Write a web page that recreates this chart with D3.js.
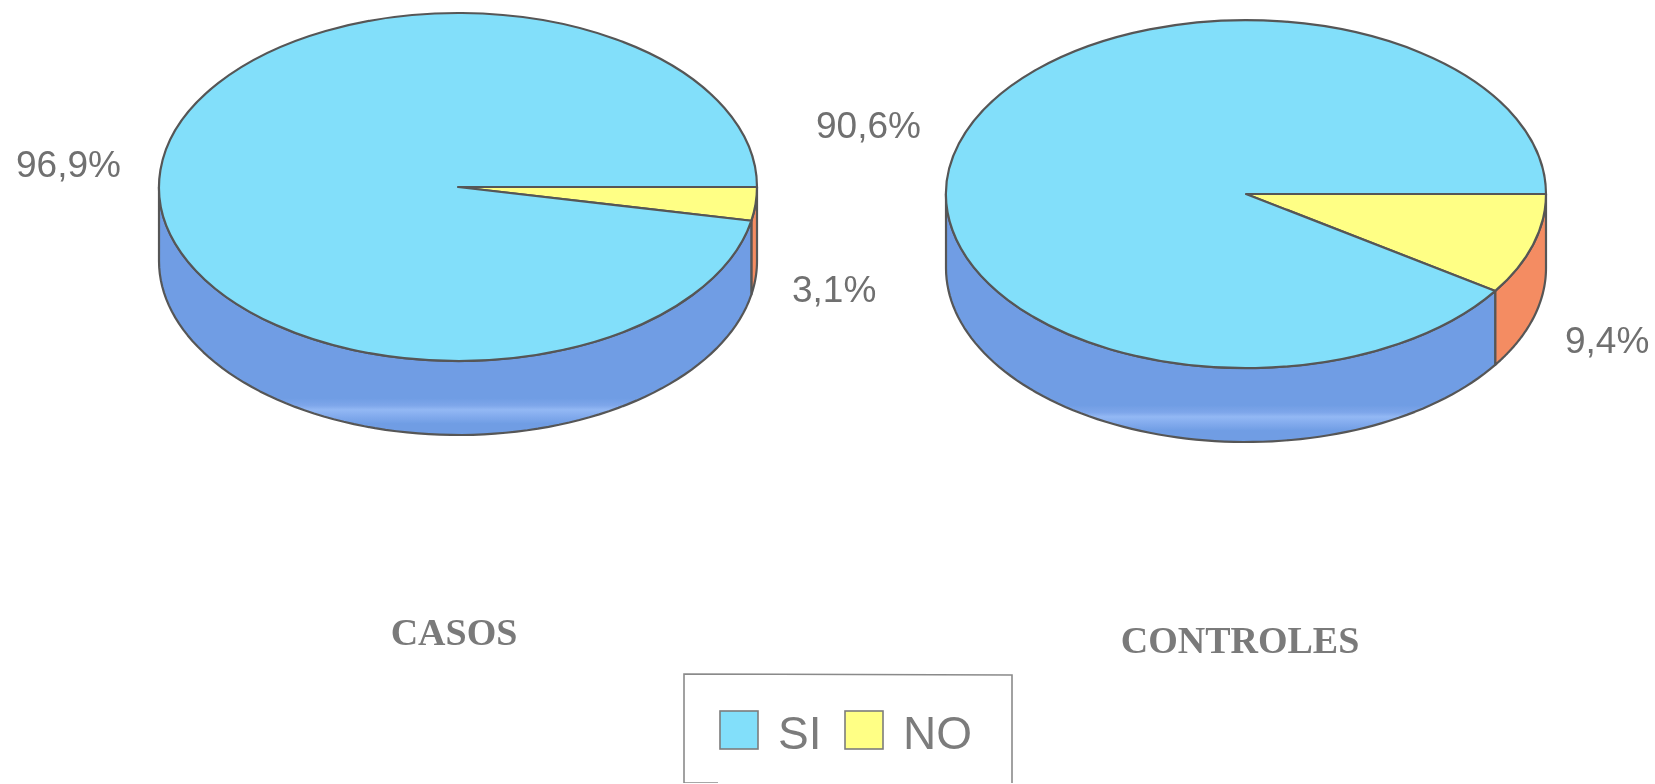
<!DOCTYPE html>
<html><head><meta charset="utf-8">
<script src="https://cdnjs.cloudflare.com/ajax/libs/d3/7.8.5/d3.min.js"></script>
<style>html,body{margin:0;padding:0;background:#fff;overflow:hidden}svg{display:block}</style>
</head><body><svg id="c" width="1655" height="784"></svg>
<script>
const categories = ["NO", "SI"];
const legendOrder = ["SI", "NO"];
const casosValues = [3.1, 96.9];
const controlesValues = [9.4, 90.6];
const casosLabels = ["3,1%", "96,9%"];
const controlesLabels = ["9,4%", "90,6%"];
const pieTitles = ["CASOS", "CONTROLES"];

const topColor = d3.scaleOrdinal(categories, ["#ffff85", "#82dffa"]);
const wallColor = d3.scaleOrdinal(categories, ["#f48c62", "#6f9de4"]);
const edge = "#565656", ink = "#707070";
const root = d3.select("#c");
const defs = root.append("defs");
defs.append("filter").attr("id","scan").attr("x",0).attr("y",0).attr("width","100%").attr("height","100%")
  .append("feGaussianBlur").attr("stdDeviation",0.55);
const svg = root.append("g").attr("filter","url(#scan)");

const pieLayout = d3.pie().sort(null).startAngle(Math.PI/2).endAngle(Math.PI/2 + 2*Math.PI);

function drawPie(values, cfg){
  const g = svg.append("g");
  const arcs = pieLayout(values).map((d,i)=>({...d, cat: categories[i]}));
  const sx = t => cfg.cx + cfg.rx*Math.cos(t), sy = t => cfg.cy + cfg.ry*Math.sin(t);
  const wall = (a0,a1) => {
    const n = 80, ts = d3.range(n+1).map(i => a0 + (a1-a0)*i/n);
    return d3.line()(ts.map(t=>[sx(t),sy(t)]).concat(ts.slice().reverse().map(t=>[sx(t),sy(t)+cfg.depth]))) + "Z";
  };
  // pale scanner streak across the lower part of the blue wall
  const gradId = "wall"+cfg.cx;
  const base = wallColor("SI"), pale = "#93b8f4";
  const grad = defs.append("linearGradient").attr("id",gradId).attr("gradientUnits","userSpaceOnUse")
    .attr("x1",0).attr("x2",0).attr("y1",cfg.cy+cfg.ry).attr("y2",cfg.cy+cfg.ry+cfg.depth);
  [[0,base],[.5,base],[.6,"#7ea6ea"],[.66,pale],[.74,"#84acee"],[.85,base],[1,base]]
    .forEach(([o,c])=>grad.append("stop").attr("offset",o).attr("stop-color",c));
  arcs.forEach(d=>{
    const a0 = Math.max(d.startAngle-Math.PI/2,0), a1 = Math.min(d.endAngle-Math.PI/2,Math.PI);
    if(a1>a0){
      g.append("path").attr("d",wall(a0,a1))
       .attr("fill",d.cat==="SI"?`url(#${gradId})`:wallColor(d.cat))
       .attr("stroke",edge).attr("stroke-width",2.2).attr("stroke-linejoin","round");
    }
  });
  const arc = d3.arc().innerRadius(0).outerRadius(1);
  const top = g.append("g").attr("transform",`translate(${cfg.cx},${cfg.cy}) scale(${cfg.rx},${cfg.ry})`);
  top.selectAll("path").data(arcs).join("path")
    .attr("d",arc).attr("fill",d=>topColor(d.cat))
    .attr("stroke",edge).attr("stroke-width",2.2).attr("vector-effect","non-scaling-stroke")
    .attr("stroke-linejoin","round");
}

drawPie(casosValues,{cx:458,cy:187,rx:299,ry:174,depth:74});
drawPie(controlesValues,{cx:1246,cy:194,rx:300,ry:174,depth:74});

const numStyle = s => s.attr("font-family","'Liberation Sans',Arial,sans-serif").attr("font-size",37).attr("fill",ink);
numStyle(svg.append("text").attr("x",16).attr("y",177).text(casosLabels[1]));
numStyle(svg.append("text").attr("x",792).attr("y",302).text(casosLabels[0]));
numStyle(svg.append("text").attr("x",816).attr("y",138).text(controlesLabels[1]));
numStyle(svg.append("text").attr("x",1565).attr("y",353).text(controlesLabels[0]));

const titleStyle = s => s.attr("font-family","'Liberation Serif','Times New Roman',serif").attr("font-weight","bold")
  .attr("font-size",38).attr("fill","#7a7a7a").attr("text-anchor","middle");
titleStyle(svg.append("text").attr("x",454).attr("y",645).text(pieTitles[0]));
titleStyle(svg.append("text").attr("x",1240).attr("y",653).text(pieTitles[1]));

// legend frame: the bottom rule survives only at its left end
const frame = d3.path();
frame.moveTo(718,783); frame.lineTo(684,783); frame.lineTo(684,674); frame.lineTo(1012,675); frame.lineTo(1012,783);
svg.append("path").attr("d",frame.toString()).attr("fill","none").attr("stroke","#8a8a8a").attr("stroke-width",1.6);
const legendX = d3.scalePoint(legendOrder,[720,845]);
const legendG = svg.selectAll("g.lg").data(legendOrder).join("g").attr("class","lg")
  .attr("transform",d=>`translate(${legendX(d)},711)`);
legendG.append("rect").attr("width",38).attr("height",38)
  .attr("fill",d=>topColor(d)).attr("stroke","#7c7c7c").attr("stroke-width",1.6);
legendG.append("text").attr("x",58).attr("y",38).text(d=>d)
  .attr("font-family","'Liberation Sans',Arial,sans-serif").attr("font-size",46).attr("fill","#7c7c7c");
</script></body></html>
